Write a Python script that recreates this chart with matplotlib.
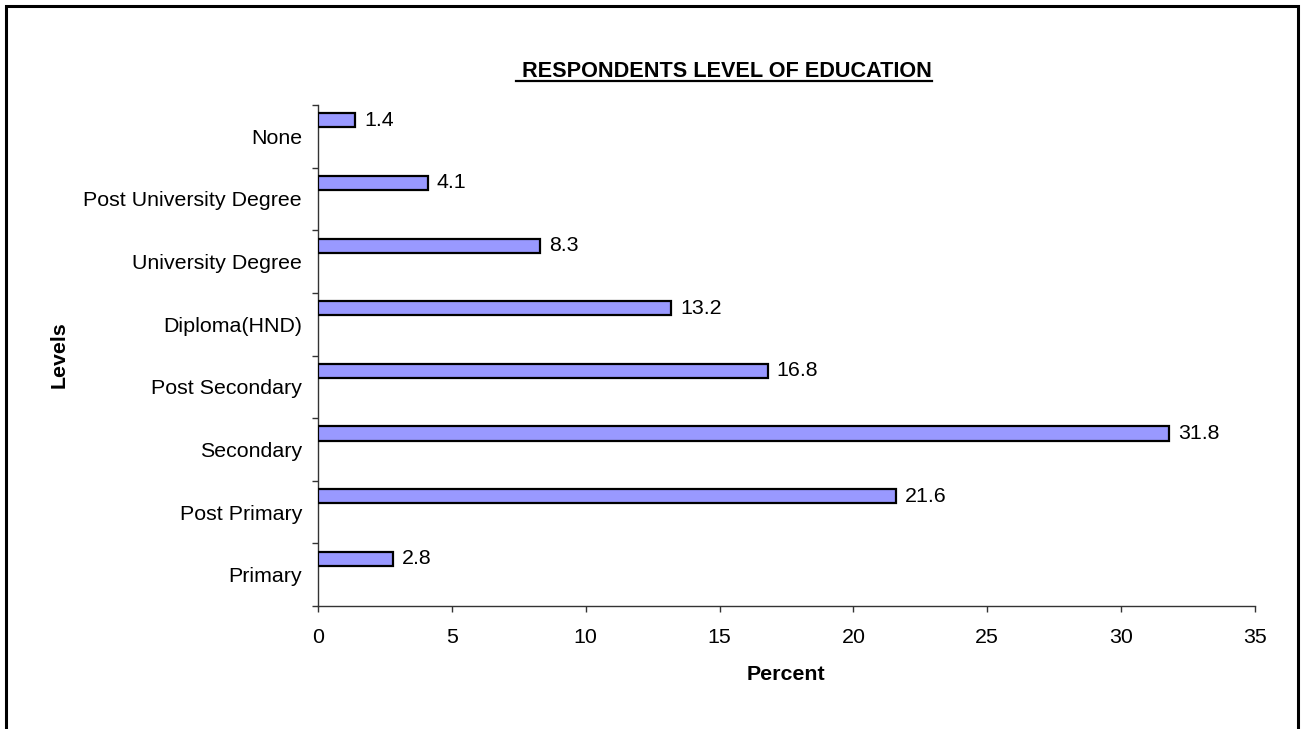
import matplotlib
matplotlib.use("Agg")
import matplotlib.pyplot as plt
from matplotlib.patches import Rectangle
from matplotlib.lines import Line2D
import numpy as np

# Education levels, listed from the bottom of the chart to the top
levels = ["Primary", "Post Primary", "Secondary", "Post Secondary",
          "Diploma(HND)", "University Degree", "Post University Degree", "None"]
percent = [2.8, 21.6, 31.8, 16.8, 13.2, 8.3, 4.1, 1.4]
x_ticks = [0, 5, 10, 15, 20, 25, 30, 35]

title_text = " RESPONDENTS LEVEL OF EDUCATION"
x_title = "Percent"
y_title = "Levels"

plt.rcParams["font.family"] = ["Liberation Sans", "DejaVu Sans"]

W, H, DPI = 1306, 729, 100
fig = plt.figure(figsize=(W / DPI, H / DPI), dpi=DPI)
fig.patch.set_facecolor("white")

def fx(px):
    return px / W

def fy(py):
    return 1 - py / H

FS = 15.4

ax_left, ax_right, ax_top, ax_bottom = 318, 1255, 105, 606
ax = fig.add_axes([fx(ax_left), fy(ax_bottom), fx(ax_right - ax_left),
                   (ax_bottom - ax_top) / H])

pos = np.arange(len(levels))
bar_h = 0.225
bar_y = pos + 0.5 - 0.245
ax.barh(bar_y, percent, height=bar_h, color="#9999FF",
        edgecolor="black", linewidth=1.6, zorder=3)

for y, v in zip(bar_y, percent):
    ax.annotate(f"{v:g}", xy=(v, y), xytext=(6.5, 0), textcoords="offset points",
                ha="left", va="center", fontsize=FS, color="black")

ax.set_xlim(0, 35)
ax.set_ylim(-0.5, len(levels) - 0.5)
ax.set_xticks(x_ticks)
ax.set_xticklabels([str(t) for t in x_ticks], fontsize=FS)
ax.set_yticks(pos)
ax.set_yticklabels(levels, fontsize=FS)
ax.set_yticks(np.arange(len(levels) + 1) - 0.5, minor=True)

for side in ("top", "right"):
    ax.spines[side].set_visible(False)
for side in ("left", "bottom"):
    ax.spines[side].set_color("#333333")
    ax.spines[side].set_linewidth(1.0)

ax.tick_params(axis="y", which="major", length=0, pad=11.5)
ax.tick_params(axis="y", which="minor", length=4.5, width=1.0,
               color="#333333", direction="out")
ax.tick_params(axis="x", which="major", length=4.5, width=1.0,
               color="#333333", direction="out", pad=11)

fig.text(fx(786), fy(675), x_title, ha="center", va="center",
         fontsize=FS, fontweight="bold")
fig.text(fx(59), fy(355), y_title, ha="center", va="center",
         rotation=90, fontsize=FS, fontweight="bold")

title = fig.text(fx(516), fy(77), title_text, ha="left", va="baseline",
                 fontsize=15.6, fontweight="bold")

# Underline the title across its full width
fig.canvas.draw()
bb = title.get_window_extent(renderer=fig.canvas.get_renderer())
fig.add_artist(Line2D([bb.x0 / W, bb.x1 / W], [fy(80.5), fy(80.5)],
                      transform=fig.transFigure, color="black", linewidth=1.6))

# Outer frame of the chart area
fig.add_artist(Rectangle((fx(5.5), fy(760)), fx(1298 - 5.5), (760 - 5.5) / H,
                         transform=fig.transFigure, fill=False,
                         edgecolor="black", linewidth=2.2, clip_on=False))

fig.savefig("out.png", dpi=DPI, facecolor="white")
